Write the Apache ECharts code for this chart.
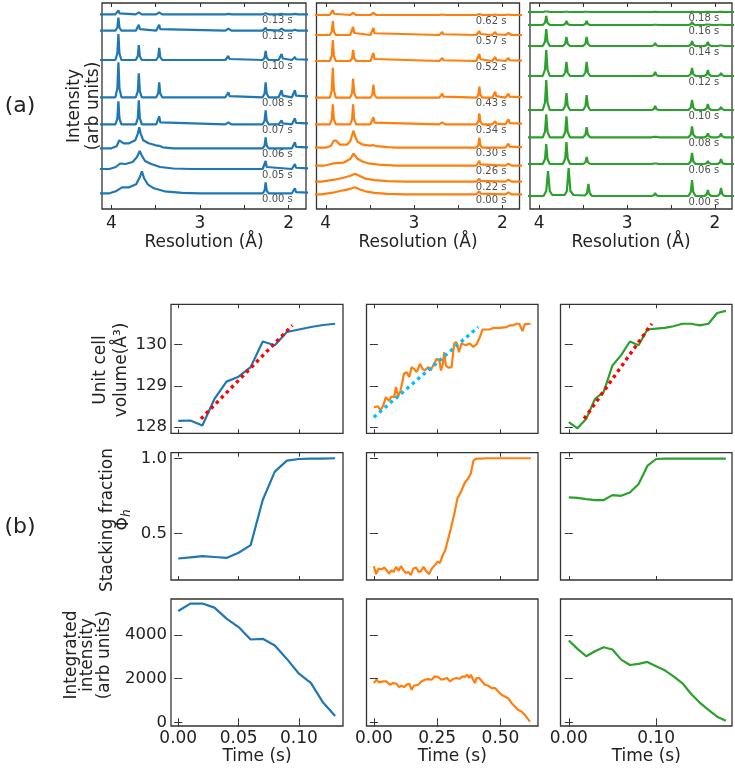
<!DOCTYPE html>
<html><head><meta charset="utf-8">
<script src="https://cdn.jsdelivr.net/npm/echarts@6/dist/echarts.min.js"></script>
<style>html,body{margin:0;padding:0;background:#fff}#c{width:735px;height:768px}</style>
</head><body><div id="c"></div>
<script>
// ---------- (a) diffraction patterns ----------
const peakPos = [3.92, 3.69, 3.46, 2.68, 2.26, 2.08, 1.93];
const resTicks = [2, 2.5, 3, 3.5, 4];
const resLabels = [2, 3, 4];

const blueLabels = ['0.00 s','0.05 s','0.06 s','0.07 s','0.08 s','0.10 s','0.12 s','0.13 s'];
const blueOffsets = [15.7, 40, 60.7, 84.7, 111.7, 149, 178.3, 194.7];
const blueHeights = [
  [0,0,0,0,11,0,5],
  [0,0,0,0,8,0,5],
  [0,0,0,0,11,0,6],
  [23,24,8,2,14,4,6],
  [35,24,15,5,15,7,7],
  [26,15,12,4,9,6,3],
  [13,6,6,2,3,2,1],
  [4,2,2,0.5,1,0.5,0.5]
];
const blueHumps = [
  [[4.02,0],[3.95,2],[3.88,6],[3.80,6],[3.72,9],[3.68,16],[3.655,22],[3.63,15],[3.59,9],[3.52,5],[3.40,2],[3.20,0.5],[3.00,0]],
  [[4.02,0],[3.95,2],[3.90,5.5],[3.84,5],[3.76,7],[3.71,12],[3.68,18],[3.66,14],[3.62,8],[3.55,5],[3.45,2],[3.30,0.5],[3.10,0]],
  [[4.00,0],[3.94,2],[3.91,8],[3.89,9],[3.86,5],[3.80,5],[3.73,8],[3.70,15],[3.685,21],[3.67,15],[3.64,8],[3.58,5],[3.50,3],[3.46,2.5],[3.42,1],[3.30,0]],
  null, null, null, null, null
];

const orangeLabels = ['0.00 s','0.22 s','0.26 s','0.30 s','0.34 s','0.43 s','0.52 s','0.57 s','0.62 s'];
const orangeOffsets = [14.7, 27.3, 43.3, 61.3, 84.7, 111.3, 148, 174, 194];
const orangeHeights = [
  [0,0,0,0,3,0,2],
  [0,0,0,0,3,0,2],
  [0,0,0,0,5,0,2],
  [0,0,0,0,10,0,4],
  [20,20,7,2,11,3,5],
  [30,19,13,4,11,6,4],
  [21,11,8,3,7,4,3],
  [14,8,7,3,4,3,2],
  [5,2,2,0.5,1,0.5,0.5]
];
const orangeHumps = [
  [[4.05,0],[3.90,2],[3.80,4],[3.72,5.5],[3.67,7],[3.62,5],[3.55,3],[3.45,1.5],[3.30,0.5],[3.10,0]],
  [[4.05,0],[3.90,2],[3.80,4],[3.72,6],[3.67,8],[3.62,6],[3.55,3],[3.45,1.5],[3.30,0.5],[3.10,0]],
  [[4.02,0],[3.93,2],[3.88,2.5],[3.80,3],[3.72,7],[3.685,12],[3.67,12],[3.64,7],[3.58,4],[3.50,2],[3.40,1],[3.20,0]],
  [[4.00,0],[3.94,2],[3.91,7],[3.90,9],[3.88,7],[3.84,3],[3.76,3],[3.72,7],[3.70,13],[3.685,17],[3.67,12],[3.64,6],[3.58,3],[3.50,2],[3.46,2.5],[3.42,1.5],[3.30,0.5],[3.20,0]],
  null, null, null, null, null
];

const greenLabels = ['0.00 s','0.06 s','0.08 s','0.10 s','0.12 s','0.14 s','0.16 s','0.18 s'];
const greenOffsets = [13, 45, 71.7, 99, 133, 163, 184, 197];
const greenHeights = [
  [0,0,0,3,16,6,8],
  [20,22,7,2,11,3,5],
  [23,21,10,2,11,4,4],
  [30,17,15,4,10,6,3],
  [26,14,14,4,8,6,3],
  [17,9,9,3,5,4,2],
  [9,4,4,1,3,2,1],
  [2,1,1,0.3,0.5,0.3,0.3]
];
const greenHumps = [
  [[3.95,0],[3.92,5],[3.90,25],[3.88,5],[3.85,1],[3.71,1],[3.685,5],[3.665,28],[3.645,5],[3.61,1],[3.48,0.5],[3.455,3],[3.44,12],[3.425,3],[3.40,0]],
  null, null, null, null, null, null, null
];

// ---------- (b) time series ----------
const blueTime = [0,0.01,0.02,0.03,0.04,0.05,0.06,0.07,0.08,0.09,0.10,0.11,0.12,0.13];
const blueVol = [128.15,128.16,128.04,128.68,129.10,129.22,129.45,130.07,129.98,130.30,130.36,130.42,130.47,130.50];
const bluePhi = [0.333,0.341,0.349,0.343,0.337,0.371,0.422,0.722,0.911,0.984,0.995,0.997,0.998,1.0];
const blueInt = [5109,5450,5450,5266,4758,4370,3801,3832,3524,2910,2231,1801,905,291];
const blueFitT = [0.0188, 0.0945];
const blueFitV = [128.20, 130.46];

const orangeVolT = [0,0.017,0.026,0.037,0.047,0.060,0.070,0.080,0.087,0.096,0.105,0.119,0.129,0.140,0.149,0.158,0.169,0.182,0.192,0.201,0.215,0.224,0.234,0.248,0.258,0.265,0.271,0.278,0.284,0.294,0.307,0.317,0.326,0.336,0.346,0.363,0.379,0.392,0.405,0.419,0.429,0.442,0.458,0.471,0.498,0.524,0.537,0.550,0.563,0.574,0.587,0.596,0.603,0.619];
const orangeVol = [128.48,128.50,128.40,128.52,128.72,128.64,128.74,128.72,128.97,128.74,128.87,129.29,129.33,129.21,129.45,129.41,129.33,129.53,129.41,129.37,129.45,129.37,129.49,129.65,129.63,129.37,129.49,129.81,129.49,129.44,129.45,130.02,130.06,129.81,130.02,129.98,130.02,129.94,130.00,130.18,130.36,130.36,130.36,130.40,130.40,130.42,130.46,130.46,130.50,130.50,130.32,130.49,130.50,130.50];
const orangePhiT = [0,0.009,0.019,0.031,0.041,0.052,0.060,0.070,0.078,0.088,0.098,0.107,0.117,0.127,0.136,0.146,0.156,0.167,0.177,0.186,0.196,0.206,0.218,0.229,0.241,0.251,0.261,0.272,0.282,0.292,0.304,0.318,0.330,0.344,0.359,0.373,0.383,0.393,0.404,0.419,0.447,0.519,0.620];
const orangePhi = [0.282,0.229,0.267,0.260,0.273,0.251,0.233,0.255,0.244,0.277,0.251,0.282,0.255,0.237,0.244,0.222,0.267,0.273,0.244,0.249,0.277,0.251,0.229,0.267,0.289,0.311,0.304,0.355,0.389,0.455,0.533,0.633,0.733,0.777,0.837,0.867,0.900,0.984,0.997,0.998,1.0,1.0,1.0];
const orangeIntT = [0,0.0105,0.021,0.037,0.050,0.063,0.076,0.0895,0.100,0.109,0.120,0.129,0.140,0.149,0.158,0.175,0.188,0.201,0.214,0.228,0.241,0.254,0.267,0.280,0.289,0.300,0.313,0.326,0.340,0.350,0.359,0.368,0.376,0.383,0.392,0.399,0.405,0.416,0.425,0.438,0.452,0.465,0.478,0.491,0.504,0.517,0.530,0.544,0.557,0.570,0.583,0.596,0.616];
const orangeInt = [1801,1954,1831,1877,1877,1723,1801,1769,1615,1677,1615,1723,1769,1492,1677,1723,1877,1954,1985,1954,2108,2078,1954,2000,2031,1877,1985,2031,2000,2108,2078,2185,2031,2185,1954,1801,2031,2031,1908,1723,1677,1570,1570,1415,1261,1184,1108,877,723,568,491,337,29];
const orangeFitT = [0.0, 0.412];
const orangeFitV = [128.24, 130.42];

const greenTime = [0,0.01,0.02,0.03,0.04,0.05,0.06,0.07,0.08,0.09,0.10,0.11,0.12,0.13,0.14,0.15,0.16,0.17,0.18];
const greenVol = [128.12,127.97,128.20,128.68,128.85,129.49,129.74,130.07,129.98,130.36,130.38,130.40,130.44,130.50,130.50,130.46,130.50,130.76,130.81];
const greenPhi = [0.740,0.737,0.728,0.722,0.722,0.755,0.750,0.772,0.829,0.949,0.995,0.997,0.997,0.997,0.997,0.997,0.998,0.998,0.998];
const greenInt = [3755,3372,3031,3262,3447,3339,2878,2631,2679,2771,2570,2385,2108,1801,1308,907,568,260,75];
const greenFitT = [0.0176, 0.095];
const greenFitV = [128.20, 130.50];

const volTicks = [128, 129, 130];
const phiTicks = [0.5, 1.0];
const intTicks = [0, 2000, 4000];

// ---------- styling ----------
const C = {blue:'#1f77b4', orange:'#ff7f0e', green:'#2ca02c', red:'#ff0000', cyan:'#00bfff'};
const FONT = 'DejaVu Sans';
const FRAME = '#333333';
const chart = echarts.init(document.getElementById('c'), null, {renderer:'canvas'});

const grids = [], xAxes = [], yAxes = [], series = [];
function addGrid(left, top, width, height){
  grids.push({left, top, width, height, show:true, borderColor:FRAME, borderWidth:1.3, backgroundColor:'transparent', containLabel:false});
  return grids.length - 1;
}
function tickCfg(vals, show){ return {show:show!==false, inside:true, length:4, customValues:vals, lineStyle:{color:FRAME, width:1}}; }
function addX(gi, o){
  const idx = xAxes.length;
  xAxes.push({gridIndex:gi, type:'value', min:o.min, max:o.max, inverse:!!o.inverse, position:'bottom',
    axisLine:{show:false}, splitLine:{show:false}, axisTick:tickCfg(o.ticks),
    axisLabel:{show:!!o.labels, customValues:o.labels||[], formatter:o.fmt, fontSize:17, color:'#222', fontFamily:FONT, margin:o.margin||4},
    name:o.name||'', nameLocation:'middle', nameGap:o.nameGap||22, nameTextStyle:{fontSize:17, color:'#222', fontFamily:FONT}});
  xAxes.push({gridIndex:gi, type:'value', min:o.min, max:o.max, inverse:!!o.inverse, position:'top',
    axisLine:{show:false}, splitLine:{show:false}, axisTick:tickCfg(o.ticks), axisLabel:{show:false}});
  return idx;
}
function addY(gi, o){
  const idx = yAxes.length;
  if(o.hidden){
    yAxes.push({gridIndex:gi, type:'value', min:o.min, max:o.max, show:false});
    return idx;
  }
  yAxes.push({gridIndex:gi, type:'value', min:o.min, max:o.max, position:'left',
    axisLine:{show:false}, splitLine:{show:false}, axisTick:tickCfg(o.ticks),
    axisLabel:{show:!!o.labels, customValues:o.labels||[], formatter:o.fmt, fontSize:16.5, color:'#222', fontFamily:FONT, margin:4}});
  yAxes.push({gridIndex:gi, type:'value', min:o.min, max:o.max, position:'right',
    axisLine:{show:false}, splitLine:{show:false}, axisTick:tickCfg(o.ticks), axisLabel:{show:false}});
  return idx;
}

// top row
function buildTrace(offset, heights, hump, halfW){
  const pts = [[4.3,0],[1.6,0]];
  peakPos.forEach((p,i)=>{
    const h = heights[i];
    if(h>0) pts.push([p+halfW,0],[p+halfW*0.35,h*0.25],[p,h],[p-halfW*0.35,h*0.25],[p-halfW,0]);
  });
  if(hump) hump.forEach(v=>pts.push(v));
  pts.sort((a,b)=>b[0]-a[0]);
  return pts.map(v=>[v[0], offset+v[1]]);
}
const topPanels = [
  {left:102, width:204, labels:blueLabels, offsets:blueOffsets, heights:blueHeights, humps:blueHumps, color:C.blue, hw:0.034},
  {left:316.5, width:203, labels:orangeLabels, offsets:orangeOffsets, heights:orangeHeights, humps:orangeHumps, color:C.orange, hw:0.034},
  {left:530, width:202, labels:greenLabels, offsets:greenOffsets, heights:greenHeights, humps:greenHumps, color:C.green, hw:0.04}
];
topPanels.forEach(p=>{
  const gi = addGrid(p.left, 3, p.width, 206);
  const xi = addX(gi, {min:1.805, max:4.105, inverse:true, ticks:resTicks, labels:resLabels, fmt:v=>String(Math.round(v)),
    name:'Resolution (Å)', nameGap:25, margin:6});
  const yi = addY(gi, {min:0, max:206, hidden:true});
  p.offsets.forEach((off,i)=>{
    series.push({type:'line', xAxisIndex:xi, yAxisIndex:yi, showSymbol:false, silent:true, animation:false,
      lineStyle:{color:p.color, width:2.2}, data:buildTrace(off, p.heights[i], p.humps[i], p.hw)});
  });
  series.push({type:'scatter', xAxisIndex:xi, yAxisIndex:yi, symbolSize:0, silent:true, animation:false,
    label:{show:true, position:'right', distance:0, formatter:'{b}', fontSize:10, color:'#222', fontFamily:FONT},
    data:p.labels.map((l,i)=>({name:l, value:[2.30, p.offsets[i]-6]}))});
});

// bottom rows
const cols = [
  {left:171, width:172, xmin:-0.006, xmax:0.1365, xticks:[0,0.05,0.10], color:C.blue,
   rows:[[blueTime,blueVol],[blueTime,bluePhi],[blueTime,blueInt]], fit:[blueFitT,blueFitV,C.red]},
  {left:366.5, width:171.5, xmin:-0.029, xmax:0.648, xticks:[0,0.25,0.50], color:C.orange,
   rows:[[orangeVolT,orangeVol],[orangePhiT,orangePhi],[orangeIntT,orangeInt]], fit:[orangeFitT,orangeFitV,C.cyan]},
  {left:560.5, width:171.5, xmin:-0.0095, xmax:0.187, xticks:[0,0.10], color:C.green,
   rows:[[greenTime,greenVol],[greenTime,greenPhi],[greenTime,greenInt]], fit:[greenFitT,greenFitV,C.red]}
];
const rows = [
  {top:304.3, height:129, ymin:127.85, ymax:130.97, ticks:volTicks, fmt:v=>String(Math.round(v))},
  {top:452.7, height:127.3, ymin:0.19, ymax:1.037, ticks:phiTicks, fmt:v=>v.toFixed(1)},
  {top:599, height:127, ymin:-170, ymax:5660, ticks:intTicks, fmt:v=>String(Math.round(v))}
];
cols.forEach((c,ci)=>{
  rows.forEach((r,ri)=>{
    const gi = addGrid(c.left, r.top, c.width, r.height);
    const last = ri===2;
    const xi = addX(gi, {min:c.xmin, max:c.xmax, ticks:c.xticks, labels:last?c.xticks:null, fmt:v=>v.toFixed(2),
      name:last?'Time (s)':'', nameGap:22, margin:4});
    const yi = addY(gi, {min:r.ymin, max:r.ymax, ticks:r.ticks, labels:ci===0?r.ticks:null, fmt:r.fmt});
    const [tx, ty] = c.rows[ri];
    series.push({type:'line', xAxisIndex:xi, yAxisIndex:yi, showSymbol:false, silent:true, animation:false,
      lineStyle:{color:c.color, width:2.2}, data:tx.map((t,k)=>[t, ty[k]])});
    if(ri===0){
      const [ft, fv, fc] = c.fit;
      series.push({type:'line', xAxisIndex:xi, yAxisIndex:yi, showSymbol:false, silent:true, animation:false, z:3,
        lineStyle:{color:fc, width:3.4, type:[3.4,3.8]}, data:ft.map((t,k)=>[t, fv[k]])});
    }
  });
});

function vText(x, y, text, size, lh, rich){
  return {type:'text', x, y, rotation:Math.PI/2, silent:true,
    style:{text, font:size+'px "'+FONT+'"', fill:'#222', align:'center', verticalAlign:'middle', lineHeight:lh, rich:rich}};
}
const graphics = [
  {type:'text', x:20, y:106, silent:true, style:{text:'(a)', font:'22px "'+FONT+'"', fill:'#222', align:'center', verticalAlign:'middle'}},
  {type:'text', x:20, y:527, silent:true, style:{text:'(b)', font:'22px "'+FONT+'"', fill:'#222', align:'center', verticalAlign:'middle'}},
  vText(84, 106, 'Intensity\n(arb units)', 17, 19),
  vText(111, 370, 'Unit cell\nvolume(Å³)', 17, 21),
  vText(116, 520, '{n|Stacking fraction}\n{n|Φ}{s|h}', 17, 16, {
    n:{fontSize:17, fontFamily:FONT, fill:'#222', lineHeight:16},
    s:{fontSize:12, fontFamily:FONT, fontStyle:'italic', fill:'#222', lineHeight:16, padding:[6,0,0,0]}}),
  vText(88, 655, 'Integrated\nintensity\n(arb units)', 17, 16.5)
];

chart.setOption({
  backgroundColor:'#ffffff',
  animation:false,
  textStyle:{fontFamily:FONT},
  grid:grids, xAxis:xAxes, yAxis:yAxes, series:series, graphic:graphics
});
</script>
</body></html>
